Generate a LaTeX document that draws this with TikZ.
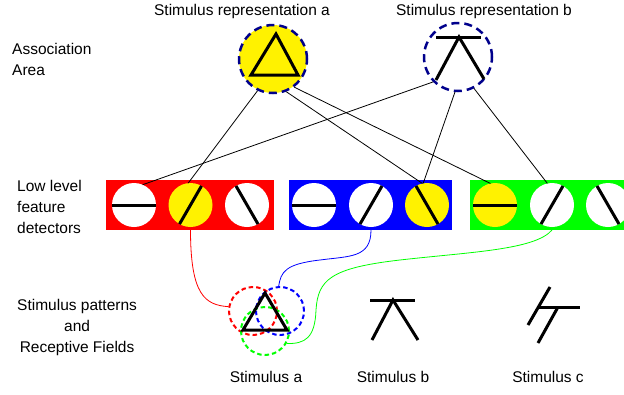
\documentclass[tikz,border=0pt]{standalone}
\usepackage{fontspec}
\setmainfont{Liberation Sans}
\definecolor{navy}{RGB}{0,0,140}
\begin{document}
\begin{tikzpicture}[x=1pt,y=-1pt,
  lbl/.style={font=\fontsize{15.5}{21}\selectfont, inner sep=0pt},
  det/.style={circle, minimum size=44pt, inner sep=0pt, outer sep=0pt, fill=white},
  hot/.style={det, fill=yellow},
  bar/.style={line width=3pt},
  rep/.style={circle, minimum size=68pt, inner sep=0pt, draw=navy, line width=2.5pt, dash pattern=on 8pt off 5pt},
  link/.style={line width=0.8pt},
  rf/.style={circle, minimum size=48pt, inner sep=0pt, line width=2pt, dash pattern=on 4.5pt off 3pt},
  boxx/.style={minimum width=#1, minimum height=50pt, inner sep=0pt, outer sep=0pt},
  wire/.style={line width=0.8pt},
]
\useasboundingbox (0,0) rectangle (624,394);
\clip (0,0) rectangle (624,394);

% left labels
\node[lbl, anchor=west, align=left] (assoc) at (12,59.5) {Association\\Area};
\node[lbl, anchor=west, align=left] (low) at (17,207) {Low level\\feature\\detectors};
\node[lbl, anchor=west, align=center] (pat) at (17,327.5) {Stimulus patterns\\and\\Receptive Fields};

% top labels
\node[lbl] (ta) at (242,11) {Stimulus representation a};
\node[lbl] (tb) at (484,11) {Stimulus representation b};

% representation circles
\node[rep, fill=yellow] (A) at (273,59) {};
\node[rep, fill=white] (B) at (458,57) {};
\draw[bar] (276,34) -- (251,75) -- (298,75) -- cycle;
\draw[bar] (436,37) -- (481,37);
\draw[bar] (436,80) -- (459,37) -- (484,79);

% detector boxes
\node[boxx=168pt, fill=red] (rbox) at (190,205) {};
\node[boxx=163pt, fill=blue] (bbox) at (370.5,205) {};
\node[boxx=170pt, fill=green] (gbox) at (555,205) {};

\node[det] (r1) at (134,205) {};
\node[hot] (r2) at (190.5,205) {};
\node[det] (r3) at (247,205) {};
\node[det] (b1) at (314,205) {};
\node[det] (b2) at (371,205) {};
\node[hot] (b3) at (427,205) {};
\node[hot] (g1) at (495,205) {};
\node[det] (g2) at (552,205) {};
\node[det] (g3) at (608,205) {};

\foreach \n in {r1,b1,g1} \draw[bar] (\n.180) -- (\n.0);
\foreach \n in {r2,b2,g2} \draw[bar] (\n.240) -- (\n.60);
\foreach \n in {r3,b3,g3} \draw[bar] (\n.120) -- (\n.300);

% association links
\draw[link] (A.244) -- (r2.96);
\draw[link] (A.-68) -- (b3.102);
\draw[link] (A.-53) -- (g1.102);
\draw[link] (B.225) -- (r1.67);
\draw[link] (B.-95) -- (b3.100);
\draw[link] (B.-63) -- (g2.102);

% receptive fields of stimulus a
\node[rf, draw=red] (cr) at (253,311) {};
\node[rf, draw=blue] (cb) at (280,311) {};
\node[rf, draw=green] (cg) at (265,331) {};
\draw[bar] (265,293) -- (243,330) -- (287,330) -- cycle;

% wires
\draw[wire, red] (r2 |- rbox.south) .. controls (190.5,295) and (205,305) .. (cr.170);
\draw[wire, blue] (b2 |- bbox.south) .. controls (371,258) and (350,256) .. (320,260)
   .. controls (285,264) and (281,272) .. (cb.93);
\draw[wire, green] (g2 |- gbox.south) .. controls (535,250) and (470,252) .. (400,260)
   .. controls (330,268) and (318,280) .. (316,310)
   .. controls (315,338) and (305,344) .. (cg.-30);

% stimulus b
\draw[bar] (370,300) -- (415,300);
\draw[bar] (372,340) -- (393,300) -- (418,340);
% stimulus c
\draw[bar] (537,307) -- (580,307);
\draw[bar] (550,287) -- (528,325);
\draw[bar] (558,307) -- (538,343);

% bottom labels
\node[lbl] (sa) at (266,377) {Stimulus a};
\node[lbl] (sb) at (393,377) {Stimulus b};
\node[lbl] (sc) at (548,377) {Stimulus c};
\end{tikzpicture}
\end{document}
